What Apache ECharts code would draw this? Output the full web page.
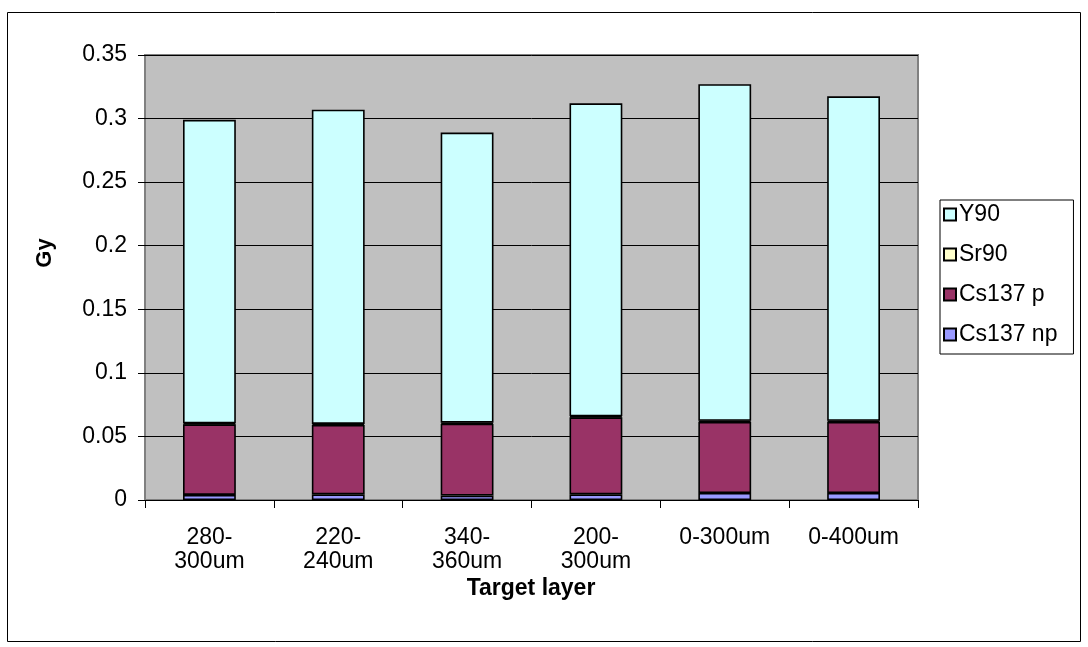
<!DOCTYPE html>
<html>
<head>
<meta charset="utf-8">
<script src="https://cdn.jsdelivr.net/npm/echarts@6/dist/echarts.min.js"></script>
<style>
  html, body { margin: 0; padding: 0; background: #fff; }
  #chart { width: 1088px; height: 647px; }
</style>
</head>
<body>
<div id="chart"></div>
<script>
// Dose per target layer, split by source (Gy)
const categories = ['280-\n300um', '220-\n240um', '340-\n360um', '200-\n300um', '0-300um', '0-400um'];
const cs137np = [0.004, 0.0045, 0.0035, 0.0045, 0.0055, 0.0055];
const cs137p  = [0.0555, 0.0545, 0.0565, 0.0605, 0.056, 0.056];
const sr90    = [0.0008, 0.0008, 0.0008, 0.0008, 0.0008, 0.0008];
const y90     = [0.2387, 0.2472, 0.2282, 0.2462, 0.2647, 0.2552];
const yTicks  = { min: 0, max: 0.35, interval: 0.05 };

const FONT = 'Liberation Sans, Arial, sans-serif';

function barSeries(name, data, color) {
  return {
    name: name,
    type: 'bar',
    stack: 'dose',
    data: data,
    barWidth: '41%',
    itemStyle: { color: color, borderColor: '#000', borderWidth: 1.6 },
    emphasis: { disabled: true }
  };
}

const chart = echarts.init(document.getElementById('chart'), null, { renderer: 'canvas' });
chart.setOption({
  animation: false,
  backgroundColor: '#fff',
  grid: {
    left: 145, top: 55, right: 170, bottom: 147,
    show: true, backgroundColor: '#C0C0C0', borderColor: '#808080', borderWidth: 2
  },
  xAxis: {
    type: 'category',
    data: categories,
    axisLine: { show: true, lineStyle: { color: '#000', width: 1 } },
    axisTick: { show: true, length: 8, lineStyle: { color: '#000' } },
    axisLabel: { color: '#000', fontFamily: FONT, fontSize: 23, lineHeight: 24, margin: 26 }
  },
  yAxis: {
    type: 'value',
    min: yTicks.min, max: yTicks.max, interval: yTicks.interval,
    axisLine: { show: false },
    axisTick: { show: true, length: 7, lineStyle: { color: '#000' } },
    axisLabel: {
      color: '#000', fontFamily: FONT, fontSize: 23, margin: 18,
      formatter: v => String(parseFloat(v.toFixed(2)))
    },
    splitLine: { show: true, lineStyle: { color: '#000', width: 1 } }
  },
  legend: {
    orient: 'vertical',
    left: 940, top: 200,
    padding: [3, 16, 8, 3],
    itemGap: 17,
    itemWidth: 12, itemHeight: 12,
    icon: 'rect',
    backgroundColor: '#fff',
    borderColor: '#000', borderWidth: 1,
    itemStyle: { borderColor: '#000', borderWidth: 2 },
    textStyle: { color: '#000', fontFamily: FONT, fontSize: 23, padding: [0, 0, 0, -2] },
    data: ['Y90', 'Sr90', 'Cs137 p', 'Cs137 np']
  },
  graphic: [
    {
      type: 'rect', silent: true, z: -1,
      shape: { x: 7.5, y: 12.5, width: 1073, height: 629 },
      style: { fill: 'none', stroke: '#000', lineWidth: 1 }
    },
    {
      type: 'text', silent: true,
      x: 531, y: 589,
      style: { text: 'Target layer', fontFamily: FONT, fontSize: 23, fontWeight: 'bold', fill: '#000',
               align: 'center', verticalAlign: 'middle' }
    },
    {
      type: 'text', silent: true,
      x: 45, y: 253, rotation: Math.PI / 2,
      style: { text: 'Gy', fontFamily: FONT, fontSize: 22, fontWeight: 'bold', fill: '#000',
               align: 'center', verticalAlign: 'middle' }
    }
  ],
  series: [
    barSeries('Cs137 np', cs137np, '#9999FF'),
    barSeries('Cs137 p', cs137p, '#993366'),
    barSeries('Sr90', sr90, '#FFFFCC'),
    barSeries('Y90', y90, '#CCFFFF')
  ]
});
</script>
</body>
</html>
